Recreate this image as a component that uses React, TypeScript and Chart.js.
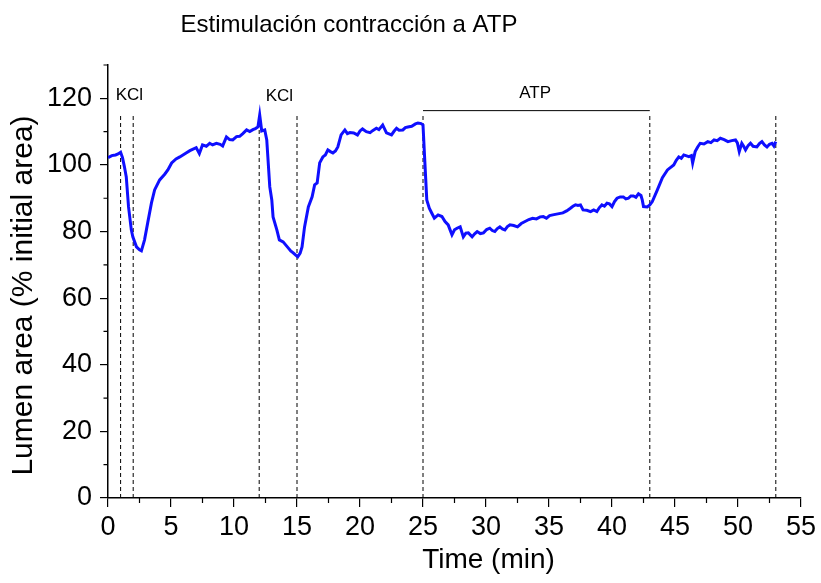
import React, { useEffect, useRef } from 'react';
import { Chart, registerables } from 'chart.js';

Chart.register(...registerables);

const chartTitle = 'Estimulación contracción a ATP';
const xTitle = 'Time (min)';
const yTitle = 'Lumen area (% initial area)';

const timeMin = [
  0.0, 0.3, 0.6, 0.8, 1.0, 1.15, 1.3, 1.45, 1.63, 1.85, 1.97, 2.26, 2.5, 2.65, 2.9, 3.15, 3.45, 3.7, 4.1, 4.5,
  4.75, 5.05, 5.4, 5.7, 6.2, 6.5, 7.0, 7.25, 7.5, 7.8, 8.07, 8.3, 8.6, 8.9, 9.1, 9.4, 9.65, 9.9, 10.2, 10.45,
  10.7, 11.0, 11.25, 11.5, 11.7, 11.9, 12.04, 12.2, 12.44, 12.6, 12.84, 13.0, 13.1, 13.4, 13.6, 13.9, 14.1, 14.3, 14.5, 14.7,
  14.9, 15.06, 15.25, 15.4, 15.6, 15.9, 16.2, 16.4, 16.6, 16.8, 17.05, 17.25, 17.45, 17.65, 17.85, 18.05, 18.24, 18.5, 18.8, 19.0,
  19.2, 19.5, 19.8, 20.0, 20.2, 20.5, 20.8, 21.0, 21.3, 21.5, 21.8, 22.1, 22.5, 22.7, 22.9, 23.1, 23.4, 23.6, 23.8, 24.1,
  24.4, 24.6, 24.85, 25.0, 25.15, 25.3, 25.5, 25.7, 25.9, 26.2, 26.5, 26.75, 27.0, 27.15, 27.3, 27.5, 27.7, 27.95, 28.2, 28.4,
  28.6, 28.9, 29.1, 29.3, 29.55, 29.8, 30.05, 30.3, 30.5, 30.7, 30.9, 31.1, 31.3, 31.5, 31.7, 31.9, 32.2, 32.5, 32.8, 33.1,
  33.4, 33.7, 34.0, 34.3, 34.55, 34.8, 35.05, 35.3, 35.7, 36.1, 36.4, 36.7, 36.9, 37.1, 37.3, 37.5, 37.7, 38.0, 38.3, 38.55,
  38.8, 39.0, 39.2, 39.4, 39.6, 39.8, 40.0, 40.2, 40.4, 40.65, 40.9, 41.1, 41.3, 41.5, 41.7, 41.9, 42.1, 42.3, 42.4, 42.5,
  42.8, 43.0, 43.2, 43.6, 44.0, 44.4, 44.9, 45.1, 45.3, 45.5, 45.7, 46.1, 46.3, 46.4, 46.6, 46.8, 47.0, 47.3, 47.6, 47.85,
  48.1, 48.35, 48.6, 48.9, 49.2, 49.5, 49.8, 49.95, 50.1, 50.3, 50.45, 50.6, 50.8, 50.99, 51.2, 51.5, 51.7, 51.9, 52.1, 52.3,
  52.5, 52.7, 52.85, 53.0,
];

const lumenArea = [
  102.2, 102.8, 103.0, 103.3, 103.8, 102.2, 99.5, 96.4, 87.4, 80.5, 78.4, 75.4, 74.5, 74.2, 77.5, 82.6, 88.6, 92.5, 95.5, 97.2,
  98.5, 100.6, 101.8, 102.4, 103.6, 104.3, 105.2, 103.4, 106.0, 105.6, 106.5, 106.0, 106.5, 106.2, 105.7, 108.4, 107.6, 107.5, 108.5, 108.6,
  109.4, 110.5, 110.0, 110.6, 110.9, 111.4, 115.0, 110.2, 110.5, 107.5, 93.4, 89.5, 84.4, 80.5, 77.5, 76.9, 76.0, 75.1, 74.2, 73.6,
  72.9, 72.4, 73.5, 75.4, 81.4, 87.4, 90.4, 94.0, 94.6, 100.6, 102.4, 103.0, 104.5, 104.0, 103.6, 104.2, 105.4, 109.0, 110.5, 109.4,
  109.7, 109.6, 109.0, 110.2, 110.8, 110.0, 109.7, 110.3, 111.0, 110.6, 112.0, 109.6, 109.0, 110.1, 111.0, 110.4, 110.5, 111.2, 111.4, 111.6,
  112.3, 112.6, 112.4, 112.0, 100.6, 89.5, 87.0, 85.5, 84.0, 85.0, 84.5, 83.0, 82.0, 80.5, 79.0, 80.5, 81.0, 81.4, 78.4, 79.5,
  79.6, 78.4, 79.3, 80.0, 79.4, 79.6, 80.6, 81.0, 80.3, 80.0, 80.9, 81.4, 80.8, 80.5, 81.5, 82.0, 81.8, 81.4, 82.4, 83.0,
  83.6, 84.0, 83.8, 84.4, 84.5, 84.0, 84.8, 85.0, 85.3, 85.6, 86.2, 87.0, 87.6, 88.0, 87.8, 88.0, 86.5, 86.4, 86.0, 86.5,
  86.0, 87.2, 88.0, 87.6, 88.5, 88.3, 87.5, 89.0, 90.0, 90.4, 90.4, 89.8, 90.0, 90.7, 90.7, 90.3, 91.3, 90.8, 89.5, 87.5,
  87.4, 88.0, 89.0, 92.5, 96.2, 98.5, 100.0, 101.4, 102.4, 102.0, 103.0, 102.5, 102.8, 100.6, 104.0, 105.4, 106.5, 106.3, 107.0, 106.7,
  107.5, 107.3, 108.0, 107.6, 107.0, 107.3, 107.5, 106.6, 104.0, 106.5, 105.6, 104.5, 105.8, 106.5, 105.6, 105.4, 106.4, 107.0, 106.0, 105.4,
  106.2, 106.5, 105.7, 107.0,
];

const markerTimes = [1, 2, 12, 15, 25, 43, 53];
const markerTop = 115.5;
const atpSpan = [25, 43];
const atpLevel = 116.3;

const labelTexts = ['KCl', 'KCl', 'ATP'];
const labelTimes = [1.7, 13.6, 33.9];
const labelLevels = [121.0, 120.7, 121.4];

const xMajorTicks = [0, 5, 10, 15, 20, 25, 30, 35, 40, 45, 50, 55];
const xMinorTicks = [2.5, 7.5, 12.5, 17.5, 22.5, 27.5, 32.5, 37.5, 42.5, 47.5, 52.5];
const yMajorTicks = [0, 20, 40, 60, 80, 100, 120];
const yMinorTicks = [10, 30, 50, 70, 90, 110, 130];

const FONT = '"Liberation Sans", Arial, Helvetica, sans-serif';

const decorPlugin = {
  id: 'decor',
  afterDraw(chart: any) {
    const { ctx, chartArea, scales } = chart;
    const xs = scales.x;
    const ys = scales.y;
    ctx.save();
    ctx.strokeStyle = '#000';
    ctx.lineWidth = 1.2;
    ctx.beginPath();
    xMinorTicks.forEach((v) => {
      const px = xs.getPixelForValue(v);
      ctx.moveTo(px, chartArea.bottom);
      ctx.lineTo(px, chartArea.bottom + 5);
    });
    yMinorTicks.forEach((v) => {
      const py = ys.getPixelForValue(v);
      ctx.moveTo(chartArea.left, py);
      ctx.lineTo(chartArea.left - 4.5, py);
    });
    ctx.stroke();

    ctx.fillStyle = '#000';
    ctx.textAlign = 'center';
    ctx.textBaseline = 'middle';
    ctx.font = `17px ${FONT}`;
    labelTexts.forEach((t, i) => {
      ctx.fillText(t, xs.getPixelForValue(labelTimes[i]), ys.getPixelForValue(labelLevels[i]));
    });

    ctx.font = `24px ${FONT}`;
    ctx.fillText(chartTitle, 349, 25);

    ctx.font = `28px ${FONT}`;
    ctx.fillText(xTitle, (chartArea.left + chartArea.right) / 2 + 34, 560);

    ctx.save();
    ctx.translate(23.5, (chartArea.top + chartArea.bottom) / 2 + 14);
    ctx.rotate(-Math.PI / 2);
    ctx.font = `30px ${FONT}`;
    ctx.fillText(yTitle, 0, 0);
    ctx.restore();

    ctx.restore();
  },
};

export default function App() {
  const canvasRef = useRef<HTMLCanvasElement | null>(null);

  useEffect(() => {
    if (!canvasRef.current) return;
    const mainData = timeMin.map((t, i) => ({ x: t, y: lumenArea[i] }));
    const markerSets = markerTimes.map((t) => ({
      data: [
        { x: t, y: 0 },
        { x: t, y: markerTop },
      ],
      borderColor: '#000',
      borderWidth: 1,
      borderDash: [4, 3],
      pointRadius: 0,
      fill: false,
    }));
    const atpSet = {
      data: [
        { x: atpSpan[0], y: atpLevel },
        { x: atpSpan[1], y: atpLevel },
      ],
      borderColor: '#000',
      borderWidth: 1,
      pointRadius: 0,
      fill: false,
    };

    const chart = new Chart(canvasRef.current, {
      type: 'line',
      data: {
        datasets: [
          {
            data: mainData,
            borderColor: '#0f0fff',
            borderWidth: 3,
            pointRadius: 0,
            tension: 0,
            fill: false,
          },
          ...markerSets,
          atpSet,
        ] as any,
      },
      options: {
        animation: false,
        responsive: false,
        events: [],
        layout: { padding: { top: 65, right: 20, left: 0, bottom: 0 } },
        plugins: {
          legend: { display: false },
          tooltip: { enabled: false },
          title: { display: false },
        },
        scales: {
          x: {
            type: 'linear',
            min: 0,
            max: 55,
            afterFit: (s: any) => {
              s.height = 85;
            },
            afterBuildTicks: (s: any) => {
              s.ticks = xMajorTicks.map((v) => ({ value: v }));
            },
            grid: { drawOnChartArea: false, drawTicks: true, tickLength: 9, color: '#000', lineWidth: 1.2 },
            border: { display: true, color: '#000', width: 1.5 },
            ticks: {
              color: '#000',
              font: { family: FONT, size: 27 },
              padding: 4,
              maxRotation: 0,
              autoSkip: false,
            },
          },
          y: {
            type: 'linear',
            min: 0,
            max: 130,
            afterFit: (s: any) => {
              s.width = 108;
            },
            afterBuildTicks: (s: any) => {
              s.ticks = yMajorTicks.map((v) => ({ value: v }));
            },
            grid: { drawOnChartArea: false, drawTicks: true, tickLength: 8, color: '#000', lineWidth: 1.2 },
            border: { display: true, color: '#000', width: 1.5 },
            ticks: {
              color: '#000',
              font: { family: FONT, size: 27 },
              padding: 8,
              autoSkip: false,
            },
          },
        },
      },
      plugins: [decorPlugin],
    });
    return () => chart.destroy();
  }, []);

  return (
    <div style={{ position: 'absolute', left: 0, top: 0, width: 821, height: 583, background: '#fff' }}>
      <canvas ref={canvasRef} width={821} height={583} style={{ display: 'block' }} />
    </div>
  );
}
